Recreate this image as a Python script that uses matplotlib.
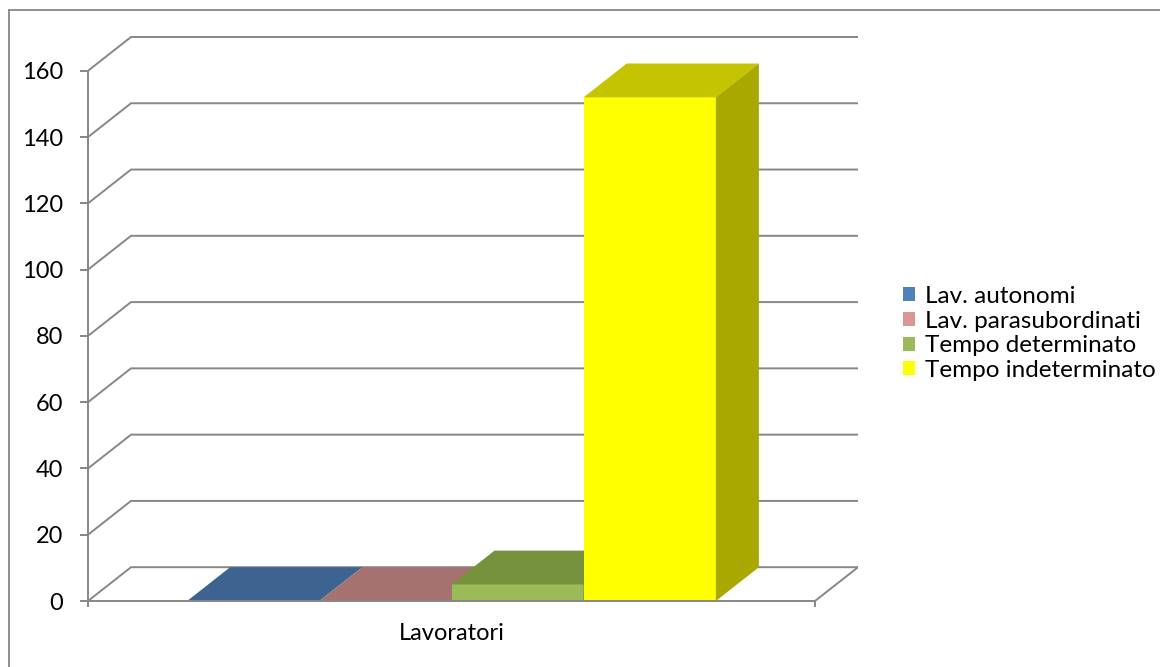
import matplotlib
matplotlib.use("Agg")
import matplotlib.pyplot as plt
from matplotlib.patches import Patch
from matplotlib.lines import Line2D

plt.rcParams['font.family'] = ['Lato', 'DejaVu Sans']

category = "Lavoratori"
series = ["Lav. autonomi", "Lav. parasubordinati", "Tempo determinato", "Tempo indeterminato"]
values = [0, 0, 5, 152]
front_colors = ["#4F81BD", "#D99694", "#9BBB59", "#FFFF00"]
top_colors = ["#3D6491", "#A5726F", "#76923C", "#C4C400"]
side_colors = ["#2F4D70", "#805856", "#5B702E", "#A8A800"]
y_ticks = [0, 20, 40, 60, 80, 100, 120, 140, 160]

W, H = 1160, 667
fig = plt.figure(figsize=(W / 100, H / 100), dpi=100)
grid_c = "#878787"

# outer chart border
fig.add_artist(Line2D([9 / W, 9 / W], [0, 1 - 10 / H], color=grid_c, lw=1.3))
fig.add_artist(Line2D([9 / W, 1], [1 - 10 / H, 1 - 10 / H], color=grid_c, lw=1.3))

ax = fig.add_axes([88 / W, 66 / H, 770 / W, 565 / H])
depth_x = 43 / 727
depth_y = 10.2
xmax = 1 + depth_x
ax.set_xlim(0, xmax)
ax.set_ylim(0, 160 + depth_y + 0.3)

# walls / gridlines
for v in y_ticks:
    ax.plot([0, depth_x, xmax], [v, v + depth_y, v + depth_y], color=grid_c, lw=1.4,
            zorder=1, solid_joinstyle='miter')
ax.plot([1, xmax], [0, depth_y], color=grid_c, lw=1.4, zorder=1)

# bars
n = len(values)
gap = 0.75
w = 1 / (n + 2 * gap)
for i, (v, fc, tc, sc) in enumerate(zip(values, front_colors, top_colors, side_colors)):
    x0 = gap * w + i * w
    x1 = x0 + w
    z = 3 + i
    ax.bar(x0, v, width=w, align='edge', color=fc, zorder=z, linewidth=0)
    ax.fill([x0, x1, x1 + depth_x, x0 + depth_x], [v, v, v + depth_y, v + depth_y],
            color=tc, zorder=z, linewidth=0)
    if v > 0:
        ax.fill([x1, x1, x1 + depth_x, x1 + depth_x], [0, v, v + depth_y, depth_y],
                color=sc, zorder=z, linewidth=0)

# axes styling
for s in ['top', 'right']:
    ax.spines[s].set_visible(False)
ax.spines['left'].set_bounds(0, 160)
ax.spines['bottom'].set_bounds(0, 1)
for s in ['left', 'bottom']:
    ax.spines[s].set_color(grid_c)
    ax.spines[s].set_linewidth(1.4)
    ax.spines[s].set_zorder(10)

ax.set_yticks(y_ticks)
ax.tick_params(axis='y', direction='out', length=5.8, width=1.4, color=grid_c,
               labelsize=17, pad=12, labelcolor='black')
ax.set_xticks([0.5], [category])
ax.set_xticks([0, 1], minor=True)
ax.tick_params(axis='x', which='major', length=0, pad=16, labelsize=17)
ax.tick_params(axis='x', which='minor', direction='out', length=4.5, width=1.4, color=grid_c)

handles = [Patch(facecolor=c, edgecolor='none') for c in front_colors]
fig.legend(handles, series, loc='upper left', bbox_to_anchor=(903 / W, 1 - 286 / H),
           frameon=False, fontsize=17.5, handlelength=0.5, handleheight=0.5,
           handletextpad=0.42, labelspacing=0.15, borderaxespad=0, borderpad=0)

fig.savefig("out.png", dpi=100)
